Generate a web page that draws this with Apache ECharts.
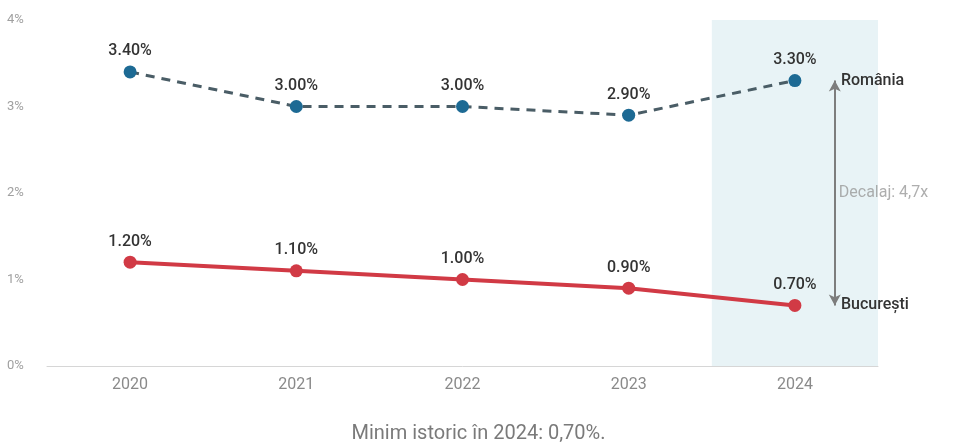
<!DOCTYPE html>
<html>
<head>
<meta charset="utf-8">
<script src="https://cdn.jsdelivr.net/npm/echarts@6/dist/echarts.min.js"></script>
<style>
html,body{margin:0;padding:0;background:#fff;}
#c{width:957px;height:448px;}
</style>
</head>
<body>
<div id="c"></div>
<script>
const years = ['2020', '2021', '2022', '2023', '2024'];
const romania = [3.4, 3.0, 3.0, 2.9, 3.3];
const bucuresti = [1.2, 1.1, 1.0, 0.9, 0.7];
const yTicks = [0, 1, 2, 3, 4];
const gapLabel = 'Decalaj: 4,7x';
const subtitle = 'Minim istoric în 2024: 0,70%.';

const last = years.length - 1;
const arrowX = last + 0.24;
const midGap = (romania[last] + bucuresti[last]) / 2;

const chart = echarts.init(document.getElementById('c'));
const font = 'Roboto, "Noto Sans", sans-serif';

chart.setOption({
  animation: false,
  textStyle: { fontFamily: font },
  grid: { left: 47, right: 79, top: 20, bottom: 82 },
  title: {
    text: subtitle,
    left: 'center',
    bottom: -1,
    textStyle: { fontSize: 20, fontWeight: 'normal', color: '#7a7a7a', fontFamily: font }
  },
  xAxis: [
    {
      type: 'category',
      data: years,
      boundaryGap: true,
      axisLine: { lineStyle: { color: '#d6d6d6' } },
      axisTick: { show: false },
      axisLabel: { color: '#8a8a8a', fontSize: 16, margin: 11 }
    },
    {
      type: 'value',
      min: -0.5,
      max: years.length - 0.5,
      show: false
    }
  ],
  yAxis: {
    type: 'value',
    min: yTicks[0],
    max: yTicks[yTicks.length - 1],
    interval: 1,
    axisLine: { show: false },
    axisTick: { show: false },
    splitLine: { show: false },
    axisLabel: {
      color: '#a0a0a0', fontSize: 13, margin: 12, align: 'left',
      padding: [0, 0, 0, -28],
      formatter: v => v + '%'
    }
  },
  series: [
    {
      name: 'band',
      type: 'line',
      xAxisIndex: 1,
      data: [],
      silent: true,
      markArea: {
        silent: true,
        itemStyle: { color: 'rgba(214,234,238,0.55)' },
        data: [[{ xAxis: last - 0.5, yAxis: yTicks[0] }, { xAxis: last + 0.5, yAxis: yTicks[yTicks.length - 1] }]]
      }
    },
    {
      name: 'România',
      type: 'line',
      data: romania,
      z: 3,
      lineStyle: { color: '#4a5d66', width: 3, type: [9, 7] },
      symbol: 'circle',
      symbolSize: 13,
      itemStyle: { color: '#1d6a94' },
      label: {
        show: true, position: 'top', distance: 6,
        color: '#333', fontSize: 16, fontWeight: 500,
        formatter: p => p.value.toFixed(2) + '%'
      },
      endLabel: {
        show: true, distance: 46,
        color: '#333', fontSize: 16, fontWeight: 500,
        formatter: 'România'
      }
    },
    {
      name: 'București',
      type: 'line',
      data: bucuresti,
      z: 3,
      lineStyle: { color: '#d13a45', width: 4 },
      symbol: 'circle',
      symbolSize: 13,
      itemStyle: { color: '#d13a45' },
      label: {
        show: true, position: 'top', distance: 6,
        color: '#333', fontSize: 16, fontWeight: 500,
        formatter: p => p.value.toFixed(2) + '%'
      },
      endLabel: {
        show: true, distance: 46,
        color: '#333', fontSize: 16, fontWeight: 500,
        formatter: 'București'
      }
    },
    {
      name: 'gap',
      type: 'scatter',
      xAxisIndex: 1,
      data: [[arrowX, midGap]],
      symbolSize: 0,
      silent: true,
      label: {
        show: true, position: 'right', distance: 4,
        color: '#9a9a9a', fontSize: 16,
        formatter: gapLabel
      },
      markLine: {
        silent: true,
        symbol: ['arrow', 'arrow'],
        symbolSize: [9, 11],
        lineStyle: { color: '#7d7d7d', width: 2, type: 'solid' },
        label: { show: false },
        data: [[{ coord: [arrowX, romania[last]] }, { coord: [arrowX, bucuresti[last]] }]]
      }
    }
  ]
});
</script>
</body>
</html>
